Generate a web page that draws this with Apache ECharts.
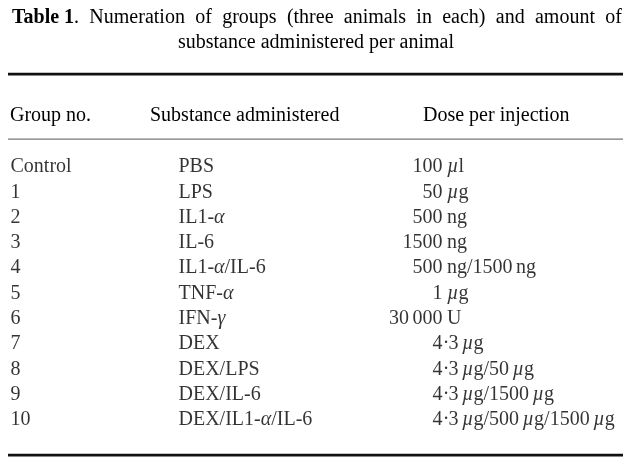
<!DOCTYPE html>
<html>
<head>
<meta charset="utf-8">
<script src="https://cdn.jsdelivr.net/npm/echarts@6/dist/echarts.min.js"></script>
<style>
html,body{margin:0;padding:0;background:#fff;}
#chart{width:632px;height:464px;}
</style>
</head>
<body>
<div id="chart"></div>
<script>
// ---- data ----
const titleBold = 'Table 1';
const titleWords = ['Numeration', 'of', 'groups', '(three', 'animals', 'in', 'each)', 'and', 'amount', 'of'];
const titleLine2 = 'substance administered per animal';
const headers = ['Group no.', 'Substance administered', 'Dose per injection'];
const groups = ['Control', '1', '2', '3', '4', '5', '6', '7', '8', '9', '10'];
const substances = ['PBS', 'LPS', 'IL1-α', 'IL-6', 'IL1-α/IL-6', 'TNF-α', 'IFN-γ', 'DEX', 'DEX/LPS', 'DEX/IL-6', 'DEX/IL1-α/IL-6'];
const doseLead = ['100', '50', '500', '1500', '500', '1', '30\u2009000', '4', '4', '4', '4'];
const doseTail = ['\u2009µl', '\u2009µg', '\u2009ng', '\u2009ng', '\u2009ng/1500\u2009ng', '\u2009µg', '\u2009U',
  '·3\u2009µg', '·3\u2009µg/50\u2009µg', '·3\u2009µg/1500\u2009µg', '·3\u2009µg/500\u2009µg/1500\u2009µg'];

// ---- layout / style ----
const FONT = '"Liberation Serif", "Times New Roman", serif';
const FS = 20;
const INK = '#000';
const COLX = [10, 178, 443];
const richCell = {
  g: { fontStyle: 'italic', fontFamily: FONT, fontSize: FS, color: INK },
  t: { width: 3.5, fontFamily: FONT, fontSize: FS },
  d: { width: 5, align: 'center', fontFamily: FONT, fontSize: FS, color: INK }
};
const fmtCell = s => s.replace(/([αγµ])/g, '{g|$1}').replace(/\u2009/g, '{t| }').replace(/·/g, '{d|·}');

function cellSeries(xPos, texts, side) {
  return {
    type: 'scatter',
    symbolSize: 1,
    itemStyle: { color: 'rgba(0,0,0,0)' },
    silent: true,
    data: texts.map((t, i) => ({ name: t, value: [xPos, i] })),
    label: {
      show: true,
      position: side,
      distance: 0,
      formatter: p => fmtCell(p.name),
      fontFamily: FONT,
      fontSize: FS,
      color: INK,
      rich: richCell
    }
  };
}

const chart = echarts.init(document.getElementById('chart'), null, { renderer: 'canvas' });

const line1 = '{b|' + titleBold + '}.{s| }' + titleWords.join('{s| }');

chart.setOption({
  backgroundColor: '#fff',
  animation: false,
  grid: { left: 0, right: 0, top: 154.35, bottom: 31.35 },
  xAxis: { type: 'value', min: 0, max: 632, show: false },
  yAxis: { type: 'category', data: groups, inverse: true, show: false },
  graphic: [
    { type: 'text', x: 12, y: 18, style: { text: line1, fontFamily: FONT, fontSize: FS, fill: INK, verticalAlign: 'middle', align: 'left',
        rich: { b: { fontWeight: 'bold', fontFamily: FONT, fontSize: FS, color: INK }, s: { width: 10.3, fontFamily: FONT, fontSize: FS } } } },
    { type: 'text', x: 316, y: 43, style: { text: titleLine2, fontFamily: FONT, fontSize: FS, fill: INK, verticalAlign: 'middle', align: 'center' } },
    { type: 'rect', shape: { x: 8, y: 72.8, width: 615, height: 2.6 }, style: { fill: '#111' } },
    { type: 'text', x: 10, y: 116, style: { text: headers[0], fontFamily: FONT, fontSize: FS, fill: INK, verticalAlign: 'middle' } },
    { type: 'text', x: 150, y: 116, style: { text: headers[1], fontFamily: FONT, fontSize: FS, fill: INK, verticalAlign: 'middle' } },
    { type: 'text', x: 423, y: 116, style: { text: headers[2], fontFamily: FONT, fontSize: FS, fill: INK, verticalAlign: 'middle' } },
    { type: 'rect', shape: { x: 8, y: 138.5, width: 615, height: 1.2 }, style: { fill: '#777' } },
    { type: 'rect', shape: { x: 8, y: 453.8, width: 615, height: 2.6 }, style: { fill: '#111' } }
  ],
  series: [
    cellSeries(COLX[0], groups, 'right'),
    cellSeries(COLX[1], substances, 'right'),
    cellSeries(COLX[2], doseLead, 'left'),
    cellSeries(COLX[2], doseTail, 'right')
  ]
});
</script>
</body>
</html>
